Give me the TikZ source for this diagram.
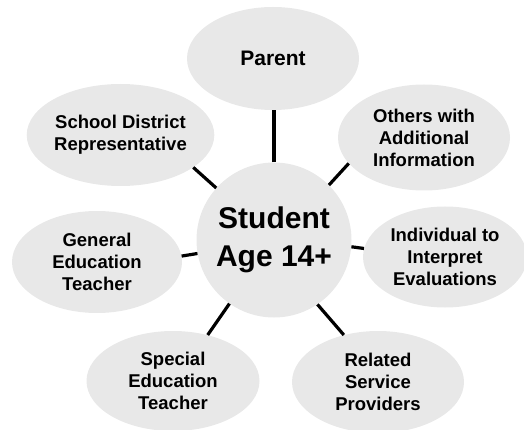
\documentclass[tikz,border=0pt]{standalone}
\usepackage{fontspec}
\setmainfont{Liberation Sans}
\usetikzlibrary{shapes.geometric}
\definecolor{bubble}{RGB}{232,232,232}
\begin{document}
\begin{tikzpicture}[x=1pt,y=-1pt,
  bubble/.style={ellipse, fill=bubble, inner sep=0pt, align=center,
    font=\fontsize{18.5}{22}\selectfont\bfseries},
  hub/.style={circle, fill=bubble, inner sep=0pt, minimum size=155pt, align=center,
    font=\fontsize{30}{38}\selectfont\bfseries},
  link/.style={line width=3.2pt}]
\useasboundingbox (0,0) rectangle (524,430);

% centre circle
\node[hub] (student) at (274,240) {Student\\Age 14+};

% surrounding participants
\node[bubble, minimum width=172pt, minimum height=103pt, font=\fontsize{21}{24}\selectfont\bfseries] (parent) at (273,58.5) {Parent};
\node[bubble, minimum width=175pt, minimum height=102pt] (school) at (120.5,135) {School District\\Representative};
\node[bubble, minimum width=172pt, minimum height=106pt] (others) at (424,137.5) {Others with\\Additional\\Information};
\node[bubble, minimum width=170pt, minimum height=102pt] (general) at (97,262) {General\\Education\\Teacher};
\node[bubble, minimum width=164pt, minimum height=101pt] (interp) at (445,257) {Individual to\\Interpret\\Evaluations};
\node[bubble, minimum width=173pt, minimum height=100pt] (special) at (173,381) {Special\\Education\\Teacher};
\node[bubble, minimum width=172pt, minimum height=102pt] (related) at (378,382) {Related\\Service\\Providers};

% spokes
\draw[link] (student.north) -- (student.north |- parent.south);
\draw[link] (student.138.8) -- (school.336);
\draw[link] (student.45.7) -- (others.199.4);
\draw[link] (student.190.5) -- (general.4);
\draw[link] (student.355) -- (interp.174);
\draw[link] (student.235.3) -- (special.53.9);
\draw[link] (student.304) -- (related.126);
\end{tikzpicture}
\end{document}
